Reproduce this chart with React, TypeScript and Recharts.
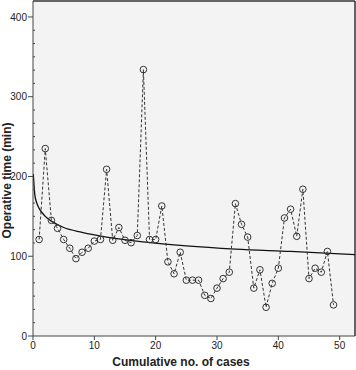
import React from "react";
import {
  ComposedChart,
  Line,
  XAxis,
  YAxis,
  CartesianGrid,
  ReferenceLine,
} from "recharts";

// operative time (min) per case, cases 1..49
const OPERATIVE_TIME = [
  121, 235, 145, 135, 121, 110, 97, 105, 110, 119,
  121, 209, 120, 136, 120, 117, 126, 334, 121, 121,
  163, 93, 78, 105, 70, 70, 70, 51, 47, 60,
  72, 80, 166, 140, 124, 60, 83, 36, 66, 85,
  148, 159, 125, 184, 72, 85, 80, 106, 39,
];

// fitted learning curve
const FIT_X = [0.05, 0.3, 0.6, 1, 2, 3, 5, 8, 12, 18, 25, 33, 42, 52.5];
const FIT_Y = [203, 177, 167, 160, 150, 144, 136, 130, 124, 118, 113, 109, 106, 102];

const X_TICKS = [0, 10, 20, 30, 40, 50];
const Y_MAJOR_TICKS = [0, 100, 200, 300, 400];

const X_MAX = 52.5;
const Y_MAX = 420;

const FONT = '"Liberation Sans", Arial, sans-serif';
const INK = "#222";
const AXIS = "#444";
const Y_TICK_SIZE = 5;
const Y_TICK_MARGIN = 1;

// six minor divisions between the major y ticks
const yTicks: number[] = [];
Y_MAJOR_TICKS.forEach((t, i) => {
  yTicks.push(t);
  if (i < Y_MAJOR_TICKS.length - 1) {
    for (let k = 1; k < 6; k++) yTicks.push(t + (k * 100) / 6);
  }
});

const caseData = OPERATIVE_TIME.map((v, i) => ({ n: i + 1, time: v }));
const fitData = FIT_X.map((x, i) => ({ n: x, fit: FIT_Y[i] }));

function YTick(props: any) {
  const { x, y, payload } = props;
  const axisX = x + Y_TICK_SIZE + Y_TICK_MARGIN;
  const major = Y_MAJOR_TICKS.some((t) => Math.abs(t - payload.value) < 0.01);
  if (!major) {
    return <line x1={axisX} x2={axisX + 2} y1={y} y2={y} stroke={AXIS} />;
  }
  return (
    <g>
      <line x1={axisX - Y_TICK_SIZE} x2={axisX} y1={y} y2={y} stroke={AXIS} />
      <text
        x={x}
        y={y}
        dy="0.355em"
        textAnchor="end"
        fontSize={10}
        fontFamily={FONT}
        fill={INK}
      >
        {Math.round(payload.value)}
      </text>
    </g>
  );
}

function XTitle(props: any) {
  const { viewBox } = props;
  return (
    <text
      x={viewBox.x + viewBox.width / 2 - 13}
      y={viewBox.y + viewBox.height - 4}
      textAnchor="middle"
      fontSize={12}
      fontWeight="bold"
      fontFamily={FONT}
      fill={INK}
    >
      Cumulative no. of cases
    </text>
  );
}

function YTitle(props: any) {
  const { viewBox } = props;
  const cy = viewBox.y + viewBox.height / 2 + 12;
  return (
    <text
      x={11}
      y={cy}
      transform={`rotate(-90, 11, ${cy})`}
      textAnchor="middle"
      fontSize={12}
      fontWeight="bold"
      fontFamily={FONT}
      fill={INK}
    >
      Operative time (min)
    </text>
  );
}

export default function App() {
  return (
    <div style={{ position: "absolute", left: 0, top: 0, background: "#fff" }}>
      <ComposedChart
        width={356}
        height={370}
        margin={{ top: 1, right: 1, bottom: 0, left: 0 }}
      >
        <CartesianGrid
          fill="#f3f3f3"
          horizontal={false}
          vertical={false}
          stroke="none"
        />
        <XAxis
          dataKey="n"
          type="number"
          domain={[0, X_MAX]}
          ticks={X_TICKS}
          interval={0}
          allowDataOverflow
          height={34}
          tickSize={4}
          tickMargin={2}
          axisLine={{ stroke: AXIS }}
          tickLine={{ stroke: AXIS }}
          tick={{ fontSize: 10, fill: INK, fontFamily: FONT }}
          label={<XTitle />}
        />
        <YAxis
          type="number"
          domain={[0, Y_MAX]}
          ticks={yTicks}
          interval={0}
          allowDataOverflow
          width={33}
          tickSize={Y_TICK_SIZE}
          tickMargin={Y_TICK_MARGIN}
          axisLine={{ stroke: AXIS }}
          tickLine={false}
          tick={<YTick />}
          label={<YTitle />}
        />
        <ReferenceLine y={Y_MAX} stroke="#333" strokeWidth={1.5} />
        <ReferenceLine x={X_MAX} stroke="#333" strokeWidth={1.5} />
        <Line
          data={fitData}
          dataKey="fit"
          type="monotone"
          stroke="#111"
          strokeWidth={1.3}
          dot={false}
          isAnimationActive={false}
        />
        <Line
          data={caseData}
          dataKey="time"
          type="linear"
          stroke="#333"
          strokeWidth={1}
          strokeDasharray="3 2"
          dot={{ r: 3.3, fill: "none", stroke: "#333", strokeWidth: 1, strokeDasharray: "" }}
          isAnimationActive={false}
        />
      </ComposedChart>
    </div>
  );
}
